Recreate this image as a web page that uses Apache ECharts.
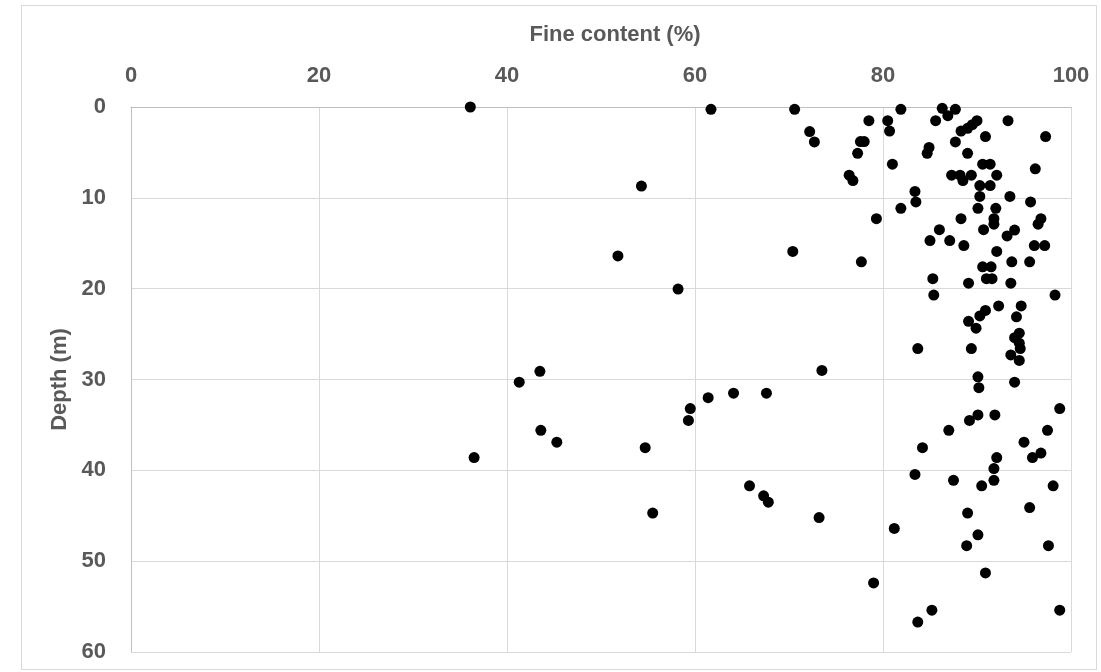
<!DOCTYPE html>
<html>
<head>
<meta charset="utf-8">
<script src="https://cdn.jsdelivr.net/npm/echarts@6/dist/echarts.min.js"></script>
<style>
  html, body { margin: 0; padding: 0; background: #ffffff; }
  #frame { position: absolute; left: 21px; top: 5px; width: 1076px; height: 665px; border: 1px solid #d9d9d9; box-sizing: border-box; }
  #chart { position: absolute; left: 0; top: 0; width: 1101px; height: 672px; }
</style>
</head>
<body>
<div id="frame"></div>
<div id="chart"></div>
<script>
// Fine content (%) of each sample
const fineContent = [
  36.1, 61.7, 70.6, 81.9, 86.3, 86.9, 87.7, 78.5, 80.5, 85.6,
  90.0, 93.3, 89.5, 89.0, 88.3, 80.7, 72.2, 90.9, 97.3, 72.7,
  77.6, 78.0, 87.7, 84.9, 84.7, 77.3, 89.0, 81.0, 90.6, 91.4,
  96.2, 76.4, 76.8, 87.3, 88.2, 88.5, 89.4, 92.1, 90.3, 91.4,
  54.3, 83.4, 83.5, 90.3, 93.5, 95.7, 81.9, 90.1, 92.0, 79.3,
  88.3, 91.8, 91.8, 96.8, 96.5, 86.0, 90.7, 94.0, 93.2, 85.0,
  87.1, 88.6, 92.1, 96.1, 97.2, 70.4, 51.8, 77.7, 93.7, 95.6,
  90.6, 91.5, 85.3, 91.0, 91.6, 89.1, 93.6, 58.2, 85.4, 98.3,
  92.3, 94.7, 90.9, 90.3, 94.2, 89.1, 89.9, 94.5, 94.0, 94.5,
  94.6, 83.7, 89.4, 93.6, 94.5, 73.5, 43.5, 90.1, 94.0, 41.3,
  90.2, 61.4, 64.1, 67.6, 59.5, 59.3, 98.8, 90.1, 91.9, 89.2,
  43.6, 87.0, 97.5, 45.3, 95.0, 54.7, 84.2, 96.8, 95.9, 92.1,
  36.5, 91.8, 83.4, 87.5, 91.8, 90.5, 98.1, 65.8, 67.3, 67.8,
  95.6, 89.0, 55.5, 73.2, 81.2, 90.1, 88.9, 97.6, 90.9, 79.0,
  85.2, 98.8, 83.7
];

// Sample depth (m), same order as fineContent
const depth = [
  0.0, 0.25, 0.25, 0.25, 0.15, 0.95, 0.25, 1.5, 1.5, 1.5,
  1.5, 1.5, 1.95, 2.35, 2.65, 2.65, 2.7, 3.25, 3.25, 3.85,
  3.8, 3.8, 3.85, 4.45, 5.1, 5.1, 5.1, 6.3, 6.3, 6.3,
  6.8, 7.5, 8.1, 7.5, 7.5, 8.1, 7.5, 7.5, 8.65, 8.65,
  8.7, 9.3, 10.45, 9.85, 9.85, 10.45, 11.15, 11.15, 11.15, 12.3,
  12.3, 12.3, 12.9, 12.3, 12.9, 13.5, 13.5, 13.55, 14.2, 14.7,
  14.7, 15.25, 15.9, 15.25, 15.25, 15.9, 16.4, 17.05, 17.05, 17.05,
  17.6, 17.6, 18.9, 18.9, 18.9, 19.4, 19.4, 20.05, 20.7, 20.7,
  21.9, 21.9, 22.4, 23.0, 23.1, 23.6, 24.35, 24.9, 25.4, 26.0,
  26.6, 26.6, 26.6, 27.3, 27.9, 29.0, 29.1, 29.7, 30.3, 30.3,
  30.9, 32.0, 31.5, 31.5, 33.2, 34.5, 33.2, 33.9, 33.9, 34.5,
  35.6, 35.6, 35.6, 36.9, 36.9, 37.5, 37.5, 38.1, 38.6, 38.6,
  38.6, 39.8, 40.45, 41.1, 41.1, 41.7, 41.7, 41.7, 42.8, 43.5,
  44.1, 44.7, 44.7, 45.2, 46.4, 47.1, 48.3, 48.3, 51.3, 52.4,
  55.4, 55.4, 56.7
];

const xTicks = [0, 20, 40, 60, 80, 100];
const yTicks = [0, 10, 20, 30, 40, 50, 60];

const points = fineContent.map((v, i) => [v, depth[i]]);

const textGray = '#595959';
const fontFamily = '"Liberation Sans", Arial, sans-serif';

const chart = echarts.init(document.getElementById('chart'), null, { renderer: 'canvas' });
chart.setOption({
  animation: false,
  backgroundColor: 'transparent',
  grid: { left: 131, top: 107, width: 940, height: 545, containLabel: false },
  xAxis: {
    type: 'value',
    position: 'top',
    min: xTicks[0],
    max: xTicks[xTicks.length - 1],
    interval: xTicks[1] - xTicks[0],
    name: 'Fine content (%)',
    nameLocation: 'middle',
    nameGap: 61,
    nameTextStyle: { color: textGray, fontSize: 22, fontWeight: 'bold', fontFamily, padding: [0, 0, 0, 28] },
    axisLine: { show: true, lineStyle: { color: '#bfbfbf', width: 1 } },
    axisTick: { show: false },
    axisLabel: { color: textGray, fontSize: 22, fontWeight: 'bold', fontFamily, margin: 20 },
    splitLine: { show: true, lineStyle: { color: '#d9d9d9', width: 1 } }
  },
  yAxis: {
    type: 'value',
    inverse: true,
    min: yTicks[0],
    max: yTicks[yTicks.length - 1],
    interval: yTicks[1] - yTicks[0],
    name: 'Depth (m)',
    nameLocation: 'middle',
    nameGap: 58,
    nameTextStyle: { color: textGray, fontSize: 22, fontWeight: 'bold', fontFamily },
    axisLine: { show: true, lineStyle: { color: '#bfbfbf', width: 1 } },
    axisTick: { show: false },
    axisLabel: { color: textGray, fontSize: 22, fontWeight: 'bold', fontFamily, margin: 25 },
    splitLine: { show: true, lineStyle: { color: '#d9d9d9', width: 1 } }
  },
  series: [{
    type: 'scatter',
    data: points,
    symbol: 'circle',
    symbolSize: 11,
    itemStyle: { color: '#000000', opacity: 1 },
    clip: false
  }]
});
</script>
</body>
</html>
